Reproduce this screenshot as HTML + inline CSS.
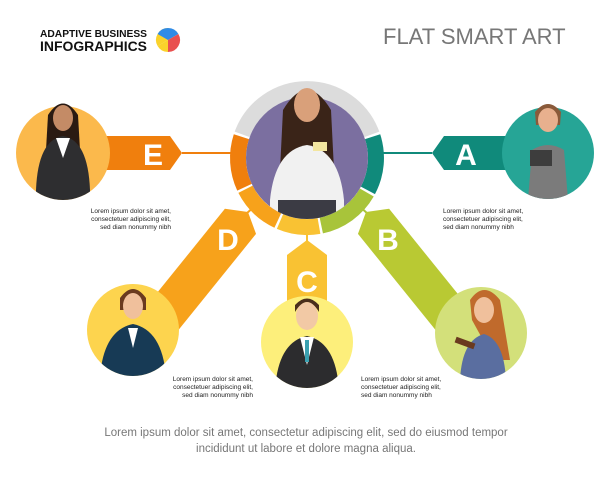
<!DOCTYPE html>
<html><head><meta charset="utf-8"><style>
html,body{margin:0;padding:0;background:#fff}
svg{display:block}
text{font-family:"Liberation Sans",sans-serif}
</style></head><body>
<svg width="612" height="478" viewBox="0 0 612 478" xmlns="http://www.w3.org/2000/svg">
<defs>
<clipPath id="cE"><circle cx="63" cy="153" r="47"/><rect x="30" y="95" width="66" height="60"/></clipPath>
<clipPath id="cA"><circle cx="548" cy="153" r="46"/><rect x="515" y="95" width="66" height="60"/></clipPath>
<clipPath id="cD"><circle cx="133" cy="330" r="46"/><rect x="100" y="270" width="66" height="60"/></clipPath>
<clipPath id="cC"><circle cx="307" cy="342" r="46"/><rect x="274" y="285" width="66" height="60"/></clipPath>
<clipPath id="cB"><circle cx="481" cy="333" r="46"/><rect x="448" y="275" width="66" height="60"/></clipPath>
<clipPath id="cM"><circle cx="307" cy="158" r="61"/><rect x="270" y="75" width="74" height="90"/></clipPath>
</defs>

<text x="40" y="37" font-size="10" font-weight="bold" fill="#111" textLength="107" lengthAdjust="spacingAndGlyphs">ADAPTIVE BUSINESS</text>
<text x="40" y="51" font-size="13.5" font-weight="bold" fill="#111" textLength="107" lengthAdjust="spacingAndGlyphs">INFOGRAPHICS</text>
<path d="M168 40 L157.6 46 A12 12 0 0 1 168 28 Z" fill="#fad22b"/>
<path d="M168 40 L168 52 A12 12 0 0 1 157.6 46 Z" fill="#fad22b"/>
<path d="M168 40 L157.6 34 A12 12 0 0 1 178.4 34 Z" fill="#2f8be6"/>
<path d="M168 40 L178.4 34 A12 12 0 0 1 168 52 Z" fill="#e9504f"/>
<text x="383" y="44" font-size="22" fill="#777">FLAT SMART ART</text>

<line x1="182" y1="153" x2="236" y2="153" stroke="#f07f0d" stroke-width="2"/>
<line x1="378" y1="153" x2="432" y2="153" stroke="#108a7b" stroke-width="2"/>
<line x1="307" y1="226" x2="307" y2="242" stroke="#f9c233" stroke-width="2"/>
<line x1="256" y1="205" x2="246" y2="214" stroke="#f7a21b" stroke-width="2"/>
<line x1="358" y1="205" x2="368" y2="214" stroke="#a8c43a" stroke-width="2"/>

<path d="M100 136 L170 136 L182 153 L170 170 L100 170 Z" fill="#f07f0d"/>
<text x="153" y="165" font-size="30" font-weight="bold" fill="#fff" text-anchor="middle">E</text>
<path d="M512 136 L444 136 L432 153 L444 170 L512 170 Z" fill="#108a7b"/>
<text x="466" y="165" font-size="30" font-weight="bold" fill="#fff" text-anchor="middle">A</text>
<g transform="translate(248,212) rotate(128.9)"><path d="M0 0 L12 -20 L150 -20 L150 20 L12 20 Z" fill="#f7a21b"/></g>
<text x="228" y="250" font-size="30" font-weight="bold" fill="#fff" text-anchor="middle">D</text>
<g transform="translate(366,212) rotate(51.1)"><path d="M0 0 L12 -20 L150 -20 L150 20 L12 20 Z" fill="#b9c933"/></g>
<text x="388" y="250" font-size="30" font-weight="bold" fill="#fff" text-anchor="middle">B</text>
<path d="M307 240 L327 255 L327 320 L287 320 L287 255 Z" fill="#f9c233"/>
<text x="307" y="292" font-size="30" font-weight="bold" fill="#fff" text-anchor="middle">C</text>

<g fill="none" stroke-width="16">
<path d="M242.2 134.4 A69 69 0 0 1 371.8 134.4" stroke="#dcdcdc"/>
<path d="M372.6 136.7 A69 69 0 0 1 367.9 190.4" stroke="#108a7b"/>
<path d="M366.8 192.5 A69 69 0 0 1 321.3 225.5" stroke="#a8c43a"/>
<path d="M319.0 226.0 A69 69 0 0 1 280.0 221.5" stroke="#f9c233"/>
<path d="M277.8 220.5 A69 69 0 0 1 245.5 189.3" stroke="#f7a21b"/>
<path d="M244.5 187.2 A69 69 0 0 1 241.4 136.7" stroke="#f07f0d"/>
</g>
<circle cx="307" cy="158" r="61" fill="#7b6fa0"/>
<g clip-path="url(#cM)">
<path d="M283 110 Q307 70 331 110 L334 170 L280 170 Z" fill="#3a2418"/>
<path d="M270 200 Q275 150 307 145 Q339 150 344 200 L344 225 L270 225 Z" fill="#f1f1f1"/>
<rect x="278" y="200" width="58" height="25" fill="#3b3b44"/>
<ellipse cx="307" cy="105" rx="13" ry="17" fill="#d9a07a"/>
<rect x="313" y="142" width="14" height="9" fill="#f3e6a0"/>
</g>

<circle cx="63" cy="153" r="47" fill="#fbb94c"/>
<g clip-path="url(#cE)">
<path d="M48 115 Q63 92 78 115 L80 150 L46 150 Z" fill="#2a1a12"/>
<path d="M36 190 Q38 140 63 136 Q88 140 90 190 L90 205 L36 205 Z" fill="#2e2e30"/>
<path d="M56 138 L63 158 L70 138 Z" fill="#fff"/>
<ellipse cx="63" cy="118" rx="10" ry="13" fill="#c48b66"/>
</g>
<circle cx="548" cy="153" r="46" fill="#26a596"/>
<g clip-path="url(#cA)">
<path d="M535 112 Q548 96 561 112 L560 125 L536 125 Z" fill="#8a5a3a"/>
<path d="M528 200 L532 150 Q548 140 564 150 L568 200 Z" fill="#7b7b7b"/>
<ellipse cx="548" cy="120" rx="10" ry="12" fill="#e8b08e"/>
<rect x="530" y="150" width="22" height="16" fill="#3d3d3d"/>
</g>
<circle cx="133" cy="330" r="46" fill="#fdd44e"/>
<g clip-path="url(#cD)">
<path d="M120 298 Q133 280 146 298 L146 310 L120 310 Z" fill="#6a3a1f"/>
<path d="M100 376 Q104 330 133 324 Q162 330 166 376 Z" fill="#173a55"/>
<path d="M128 328 L133 348 L138 328 Z" fill="#fff"/>
<ellipse cx="133" cy="306" rx="10" ry="13" fill="#f0c09c"/>
</g>
<circle cx="307" cy="342" r="46" fill="#fdef7b"/>
<g clip-path="url(#cC)">
<path d="M275 390 Q278 342 307 336 Q336 342 339 390 Z" fill="#2c2c2e"/>
<path d="M300 337 L307 365 L314 337 Z" fill="#fff"/>
<rect x="305" y="340" width="4" height="22" fill="#3aa0b0"/>
<ellipse cx="307" cy="316" rx="11" ry="14" fill="#f2c9a5"/>
<path d="M295 312 Q307 292 319 312 L319 305 Q307 292 295 305 Z" fill="#4a2e1c"/>
</g>
<circle cx="481" cy="333" r="46" fill="#d3e07a"/>
<g clip-path="url(#cB)">
<path d="M470 300 Q484 280 500 300 L510 360 L494 360 L472 320 Z" fill="#c06a2c"/>
<path d="M460 380 Q462 340 484 334 Q504 340 506 380 Z" fill="#5a6ea0"/>
<ellipse cx="484" cy="310" rx="10" ry="13" fill="#f0c09c"/>
<rect x="455" y="340" width="20" height="6" fill="#6a3a1f" transform="rotate(20 465 343)"/>
</g>

<g font-size="6.5" fill="#222">
<text text-anchor="end" x="171" y="213">Lorem ipsum dolor sit amet,</text>
<text text-anchor="end" x="171" y="221">consectetuer adipiscing elit,</text>
<text text-anchor="end" x="171" y="229">sed diam nonummy nibh</text>
<text x="443" y="213">Lorem ipsum dolor sit amet,</text>
<text x="443" y="221">consectetuer adipiscing elit,</text>
<text x="443" y="229">sed diam nonummy nibh</text>
<text text-anchor="end" x="253" y="381">Lorem ipsum dolor sit amet,</text>
<text text-anchor="end" x="253" y="389">consectetuer adipiscing elit,</text>
<text text-anchor="end" x="253" y="397">sed diam nonummy nibh</text>
<text x="361" y="381">Lorem ipsum dolor sit amet,</text>
<text x="361" y="389">consectetuer adipiscing elit,</text>
<text x="361" y="397">sed diam nonummy nibh</text>
</g>
<text x="306" y="436" font-size="11.5" fill="#777" text-anchor="middle">Lorem ipsum dolor sit amet, consectetur adipiscing elit, sed do eiusmod tempor</text>
<text x="306" y="452" font-size="11.5" fill="#777" text-anchor="middle">incididunt ut labore et dolore magna aliqua.</text>
</svg>
</body></html>
